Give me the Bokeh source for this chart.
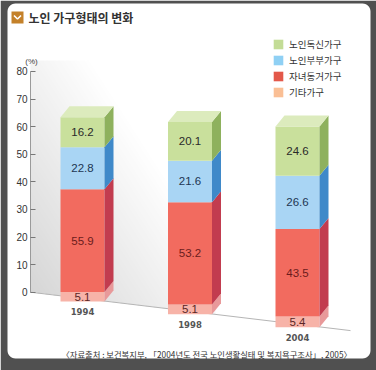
import numpy as np
from bokeh.plotting import figure
from bokeh.models import Range1d, FixedTicker, Legend, LegendItem, Label, ColumnDataSource
from bokeh.core.properties import value
from bokeh.embed import file_html
from bokeh.resources import INLINE

# ---------------- data ----------------
years = ["1994", "1998", "2004"]
other = [5.1, 5.1, 5.4]              # 기타가구
with_children = [55.9, 53.2, 43.5]   # 자녀동거가구
couple = [22.8, 21.6, 26.6]          # 노인부부가구
single = [16.2, 20.1, 24.6]          # 노인독신가구
series_names = ["기타가구", "자녀동거가구", "노인부부가구", "노인독신가구"]  # bottom -> top
y_ticks = [0, 10, 20, 30, 40, 50, 60, 70, 80]
title_text = "노인 가구형태의 변화"
unit_text = "(%)"
source_text = "〈자료출처 : 보건복지부, 「2004년도 전국 노인생활실태 및 복지욕구조사」, 2005〉"

# ---------------- layout / style ----------------
W, H = 376, 370
PX_X = 107.5          # px per category step
X0_PX = 82            # px of first bar centre
PX_Y = 2.76           # px per axis unit
Y0_PX = 291.7         # px of value 0
AXIS_PX = 30
x_start = -X0_PX / PX_X
x_end = (W - X0_PX) / PX_X
y_end = Y0_PX / PX_Y
y_start = (Y0_PX - H) / PX_Y


def fx(px):
    return x_start + px / PX_X


def fy(py):
    return y_end - py / PX_Y


axis_x = fx(AXIS_PX)
FLOOR_SLOPE = 0.12            # perspective floor (px down per px right)
BAR_W = 44 / PX_X
DEPTH_X = 9 / PX_X
DEPTH_Y = 11 / PX_Y
BAR_DROP = 3 / PX_Y
BASE_SCALE = 0.667            # axis units per percent on the drawing
PERSP = 0.045


def floor_at(x):
    return -FLOOR_SLOPE * (x - axis_x) * PX_X / PX_Y


front_colors = ["#f7b3a8", "#f26b5f", "#a9d5f4", "#c9e09c"]
side_colors = ["#e8999a", "#c23c4f", "#3f89c9", "#8eb15d"]
label_colors = ["#5a2626", "#6b1c1c", "#1d3652", "#2a2a2a"]
legend_colors = ["#fabf95", "#e3584a", "#8fd0f4", "#c3dc96"]
top_color = "#dcebbd"
NUM_FONT = "Liberation Sans"
KR_FONT = "Noto Sans CJK KR"

p = figure(width=W, height=H, output_backend="svg", toolbar_location=None,
           x_range=Range1d(x_start, x_end), y_range=Range1d(y_start, y_end),
           x_axis_location=None, y_axis_location="left",
           min_border_left=0, min_border_right=0, min_border_top=0, min_border_bottom=0)
p.outline_line_color = None
p.grid.visible = False
p.background_fill_color = "white"
p.border_fill_color = "white"

# ---------------- wall shading ----------------
g_left, g_right, g_top, g_bot = AXIS_PX, 215, 60, 340
cols_px = np.arange(g_left, g_right) + 0.5
rows_px = np.arange(g_bot, g_top, -1) - 0.5   # row 0 at bottom
PX, PY = np.meshgrid(cols_px, rows_px)
floor_px = Y0_PX + FLOOR_SLOPE * (PX - AXIS_PX)
t = (PX - AXIS_PX) / 230 + (floor_px - PY) / 330
a = np.clip(1 - t, 0, 1) * 0.40
a[PY > floor_px] = 0
img = np.zeros(PX.shape + (4,), dtype=np.uint8)
img[..., 0] = 150
img[..., 1] = 150
img[..., 2] = 150
img[..., 3] = (a * 255).astype(np.uint8)
img32 = img.view(dtype=np.uint32).reshape(PX.shape)
p.image_rgba(image=[img32], x=fx(g_left), y=fy(g_bot),
             dw=(g_right - g_left) / PX_X, dh=(g_bot - g_top) / PX_Y)

# floor line
fl_x = [axis_x, fx(350)]
p.line(fl_x, [floor_at(v) for v in fl_x], line_color="#b5b5b5", line_width=1)

# ---------------- bars ----------------
xs = list(range(len(years)))
series = [other, with_children, couple, single]
bottoms = [floor_at(i) - BAR_DROP for i in xs]
scales = [BASE_SCALE * (1 + PERSP * i) for i in xs]

run = list(bottoms)
side_xs, side_ys, side_c = [], [], []
lab_x, lab_y, lab_t, lab_c = [], [], [], []
tops_last = None
for k, vals in enumerate(series):
    b = list(run)
    tp = [run[i] + vals[i] * scales[i] for i in xs]
    run = tp
    src = ColumnDataSource(dict(x=xs, bottom=b, top=tp))
    p.vbar(x="x", bottom="bottom", top="top", width=BAR_W, source=src,
           fill_color=front_colors[k], line_color=None)
    for i in xs:
        xr = i + BAR_W / 2
        side_xs.append([xr, xr + DEPTH_X, xr + DEPTH_X, xr])
        side_ys.append([b[i], b[i] + DEPTH_Y, tp[i] + DEPTH_Y, tp[i]])
        side_c.append(side_colors[k])
        lab_x.append(i)
        lab_y.append((b[i] + tp[i]) / 2)
        lab_t.append(f"{vals[i]:.1f}")
        lab_c.append(label_colors[k])
    tops_last = tp

p.patches(xs=side_xs, ys=side_ys, fill_color=side_c, line_color=None)
top_xs, top_ys = [], []
for i in xs:
    xl, xr = i - BAR_W / 2, i + BAR_W / 2
    tt = tops_last[i]
    top_xs.append([xl, xl + DEPTH_X, xr + DEPTH_X, xr])
    top_ys.append([tt, tt + DEPTH_Y, tt + DEPTH_Y, tt])
p.patches(xs=top_xs, ys=top_ys, fill_color=top_color, line_color=None)

p.text(x=lab_x, y=lab_y, text=lab_t, text_color=lab_c, text_align="center",
       text_baseline="middle", text_font_size="11.5px", text_font=value(NUM_FONT))

# year labels
p.text(x=xs, y=[bottoms[i] - 10 / PX_Y for i in xs], text=years, text_color="#555555",
       text_align="center", text_baseline="middle", text_font_size="8.5px",
       text_font_style="bold", text_font=value("DejaVu Sans"))

# ---------------- axis ----------------
yax = p.yaxis[0]
yax.fixed_location = axis_x
yax.ticker = FixedTicker(ticks=y_ticks)
yax.bounds = (0, 80)
yax.major_tick_in = 5
yax.major_tick_out = 0
yax.minor_tick_line_color = None
yax.axis_line_color = "#9a9a9a"
yax.major_tick_line_color = "#777777"
yax.major_label_text_font_size = "10px"
yax.major_label_text_font = NUM_FONT
yax.major_label_text_color = "#333333"
yax.major_label_standoff = 3

# ---------------- legend ----------------
items = []
for k in [3, 2, 1, 0]:
    r = p.vbar(x=[xs[0]], bottom=[bottoms[0]], top=[bottoms[0]], width=BAR_W,
               fill_color=legend_colors[k], line_color=None)
    items.append(LegendItem(label=series_names[k], renderers=[r]))
legend = Legend(items=items, location=(272, 271), padding=0, margin=0, spacing=2,
                glyph_width=12, glyph_height=12, label_height=12, label_standoff=5,
                label_text_font=KR_FONT, label_text_font_size="9.5px",
                label_text_color="#333333", border_line_color=None,
                background_fill_alpha=0)
p.add_layout(legend)

# ---------------- texts & decorations ----------------
p.scatter(x=[fx(17)], y=[fy(17)], marker="square", size=12,
          fill_color="#c4812a", line_color=None)
p.line(x=[fx(13.5), fx(17), fx(20.5)], y=[fy(15), fy(18.5), fy(15)],
       line_color="white", line_width=1.6)
p.add_layout(Label(x=fx(28), y=fy(17), text=title_text, text_font=KR_FONT,
                   text_font_size="12px", text_font_style="bold", text_color="#333333",
                   text_baseline="middle"))
p.add_layout(Label(x=fx(31), y=fy(61), text=unit_text, text_font=NUM_FONT,
                   text_font_size="8px", text_color="#444444", text_align="center",
                   text_baseline="middle"))
p.add_layout(Label(x=fx(61), y=fy(353), text=source_text, text_font=KR_FONT,
                   text_font_size="8.3px", text_color="#333333", text_baseline="middle"))

# dark outer frame with rounded inner panel
il, ir, it, ib, rad = 7, 370, 3, 358, 8
ang = np.linspace(0, np.pi / 2, 8)
inner = []
for cx, cy, a0 in [(ir - rad, it + rad, -np.pi / 2), (ir - rad, ib - rad, 0),
                   (il + rad, ib - rad, np.pi / 2), (il + rad, it + rad, np.pi)]:
    for aa in ang + a0:
        inner.append((cx + rad * np.cos(aa), cy + rad * np.sin(aa)))
inner_x = [fx(u) for u, _ in inner]
inner_y = [fy(v) for _, v in inner]
outer_x = [fx(0), fx(W), fx(W), fx(0)]
outer_y = [fy(0), fy(0), fy(H), fy(H)]
p.multi_polygons(xs=[[[outer_x, inner_x]]], ys=[[[outer_y, inner_y]]],
                 fill_color="#505050", line_color=None)

open("out.html", "w").write(file_html(p, INLINE))
